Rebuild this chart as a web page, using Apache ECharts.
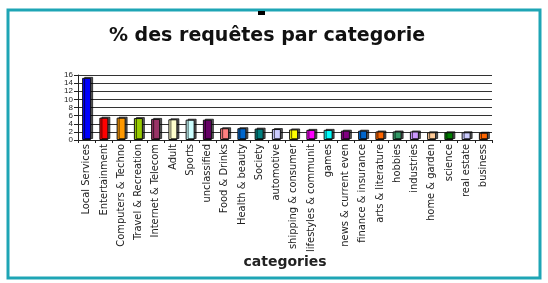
<!DOCTYPE html>
<html>
<head>
<meta charset="utf-8">
<script src="https://cdn.jsdelivr.net/npm/echarts@6/dist/echarts.min.js"></script>
<style>
  html, body { margin: 0; padding: 0; background: #fff; }
  #main { width: 548px; height: 283px; }
</style>
</head>
<body>
<div id="main"></div>
<script>
const categories = [
  "Local Services", "Entertainment", "Computers & Techno", "Travel & Recreation",
  "Internet & Telecom", "Adult", "Sports", "unclassified", "Food & Drinks",
  "Health & beauty", "Society", "automotive", "shipping & consumer",
  "lifestyles & communit", "games", "news & current even", "finance & insurance",
  "arts & literature", "hobbies", "industries", "home & garden", "science",
  "real estate", "business"
];
const values = [
  15.3, 5.5, 5.5, 5.4, 5.2, 5.1, 5.0, 5.0, 2.9,
  2.9, 2.8, 2.7, 2.6, 2.5, 2.5, 2.3, 2.3,
  2.1, 2.1, 2.1, 1.9, 1.9, 1.9, 1.8
];
const barColors = [
  "#0000ff", "#ff0000", "#ff9900", "#99cc00", "#993366", "#ffffcc", "#ccffff", "#660066",
  "#ff8080", "#0066cc", "#008080", "#ccccff", "#ffff00", "#ff00ff", "#00ffff", "#800080",
  "#0066cc", "#ff6600", "#339966", "#cc99ff", "#ffcc99", "#008000", "#ccccff", "#ff6600"
];
const yTicks = [0, 2, 4, 6, 8, 10, 12, 14, 16];

const chart = echarts.init(document.getElementById('main'));
const option = {
  animation: false,
  backgroundColor: '#fff',
  title: {
    text: "% des requêtes par categorie",
    left: 262,
    textAlign: 'center',
    top: 22,
    textStyle: { fontFamily: 'DejaVu Sans', fontWeight: 'bold', fontSize: 19, color: '#111' }
  },
  graphic: [
    { type: 'rect', shape: { x: 8, y: 10, width: 532, height: 268 },
      style: { fill: 'none', stroke: '#1ea5b5', lineWidth: 3 } },
    { type: 'rect', shape: { x: 258, y: 11, width: 7, height: 4 }, style: { fill: '#000' } }
  ],
  grid: { left: 78, right: 56, top: 75, bottom: 143 },
  xAxis: {
    type: 'category',
    data: categories,
    name: 'categories',
    nameLocation: 'middle',
    nameGap: 113,
    nameTextStyle: { fontFamily: 'DejaVu Sans', fontWeight: 'bold', fontSize: 14, color: '#222' },
    axisLine: { lineStyle: { color: '#222', width: 1 } },
    axisTick: { show: true, alignWithLabel: false, length: 3, lineStyle: { color: '#222' } },
    axisLabel: {
      rotate: 90, interval: 0, margin: 4,
      fontFamily: 'DejaVu Sans Condensed, Liberation Sans', fontSize: 11, color: '#222'
    }
  },
  yAxis: {
    type: 'value',
    min: yTicks[0],
    max: yTicks[yTicks.length - 1],
    interval: 2,
    axisLine: { show: true, lineStyle: { color: '#222' } },
    axisTick: { show: true, length: 4, lineStyle: { color: '#222' } },
    axisLabel: {
      fontFamily: 'Liberation Sans', fontSize: 8, lineHeight: 8, color: '#222', margin: 5,
      showMinLabel: true, showMaxLabel: true, hideOverlap: false
    },
    splitLine: { lineStyle: { color: '#333', width: 1 } }
  },
  series: [{
    type: 'bar',
    barWidth: 9,
    data: values.map((v, i) => ({
      value: v,
      itemStyle: { color: barColors[i] }
    })),
    itemStyle: {
      borderColor: '#111',
      borderWidth: 1,
      shadowColor: 'rgba(0,0,0,0.65)',
      shadowOffsetX: 2,
      shadowOffsetY: -1,
      shadowBlur: 0
    }
  }]
};
chart.setOption(option);
</script>
</body>
</html>
